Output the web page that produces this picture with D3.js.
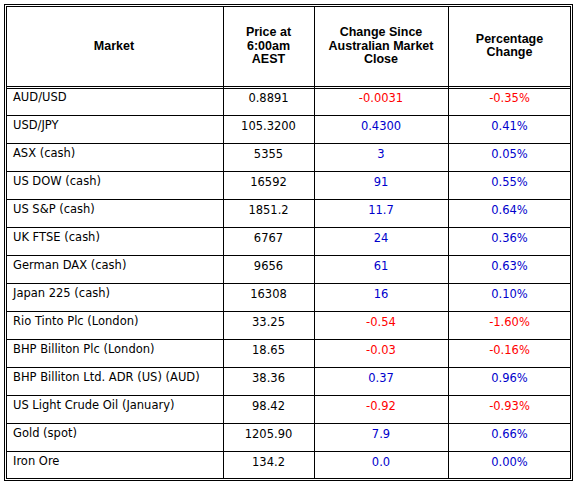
<!DOCTYPE html><html><head><meta charset="utf-8"><script src="https://d3js.org/d3.v7.min.js"></script>
<style>body{margin:0;background:#fff}</style></head><body><svg id="c" width="579" height="488"></svg>
<script>
const markets=["AUD/USD","USD/JPY","ASX (cash)","US DOW (cash)","US S&P (cash)","UK FTSE (cash)","German DAX (cash)","Japan 225 (cash)","Rio Tinto Plc (London)","BHP Billiton Plc (London)","BHP Billiton Ltd. ADR (US) (AUD)","US Light Crude Oil (January)","Gold (spot)","Iron Ore"];
const prices=["0.8891","105.3200","5355","16592","1851.2","6767","9656","16308","33.25","18.65","38.36","98.42","1205.90","134.2"];
const changes=["-0.0031","0.4300","3","91","11.7","24","61","16","-0.54","-0.03","0.37","-0.92","7.9","0.0"];
const pcts=["-0.35%","0.41%","0.05%","0.55%","0.64%","0.36%","0.63%","0.10%","-1.60%","-0.16%","0.96%","-0.93%","0.66%","0.00%"];
const headers=[["Market"],["Price at","6:00am","AEST"],["Change Since","Australian Market","Close"],["Percentage","Change"]];
const svg=d3.select("#c");
const colX=[5,223,314,448,571];
const headB=87,rowH=28;
const y=d3.scaleBand().domain(d3.range(markets.length)).range([headB,headB+rowH*markets.length]);
const g=svg.append("g").attr("stroke","#000").attr("shape-rendering","crispEdges");
g.append("rect").attr("x",4.5).attr("y",4.5).attr("width",568).attr("height",476).attr("fill","none");
g.append("rect").attr("x",6.5).attr("y",6.5).attr("width",564).attr("height",472).attr("fill","none");
colX.slice(1,4).forEach(x=>g.append("line").attr("x1",x+.5).attr("x2",x+.5).attr("y1",6).attr("y2",479));
g.append("line").attr("x1",6).attr("x2",571).attr("y1",86.5).attr("y2",86.5);
g.append("line").attr("x1",6).attr("x2",571).attr("y1",88.5).attr("y2",88.5);
d3.range(1,markets.length).forEach(i=>g.append("line").attr("x1",6).attr("x2",571).attr("y1",y(i)+.5).attr("y2",y(i)+.5));
headers.forEach((h,c)=>{
  const cx=(colX[c]+colX[c+1])/2, n=h.length, mid=45;
  h.forEach((t,k)=>svg.append("text").attr("x",cx).attr("y",mid+(k-(n-1)/2)*13.5+4.5)
    .attr("text-anchor","middle").attr("font-family","Liberation Sans, Arial").attr("font-weight","bold").attr("font-size",12.5).text(t));
});
const f="DejaVu Sans, Verdana";
const col=v=>v.startsWith("-")?"#ff0000":"#0000cc";
markets.forEach((m,i)=>{
  const by=y(i)+14;
  svg.append("text").attr("x",13).attr("y",by).attr("font-family",f).attr("font-size",11.5).text(m);
  svg.append("text").attr("x",(colX[1]+colX[2])/2).attr("y",by+1).attr("text-anchor","middle").attr("font-family",f).attr("font-size",11.5).text(prices[i]);
  svg.append("text").attr("x",(colX[2]+colX[3])/2).attr("y",by+1).attr("text-anchor","middle").attr("font-family",f).attr("font-size",11.5).attr("fill",col(changes[i])).text(changes[i]);
  svg.append("text").attr("x",(colX[3]+colX[4])/2).attr("y",by+1).attr("text-anchor","middle").attr("font-family",f).attr("font-size",11.5).attr("fill",col(pcts[i])).text(pcts[i]);
});
</script></body></html>
